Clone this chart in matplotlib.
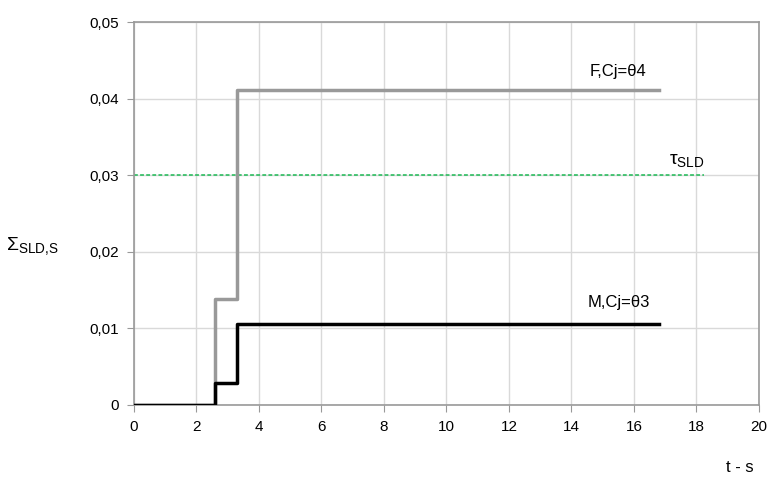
import numpy as np
import matplotlib
matplotlib.use("Agg")
import matplotlib.pyplot as plt
from matplotlib.ticker import FuncFormatter

plt.rcParams['font.family'] = ['Liberation Sans', 'DejaVu Sans']
plt.rcParams['mathtext.fontset'] = 'custom'
plt.rcParams['mathtext.rm'] = 'Liberation Sans'
plt.rcParams['mathtext.it'] = 'Liberation Sans'
plt.rcParams['mathtext.bf'] = 'Liberation Sans:bold'

# step data
t_F = [0, 2.6, 3.3, 16.8]
sum_F = [0, 0.0139, 0.0411, 0.0411]
t_M = [0, 2.6, 3.3, 16.8]
sum_M = [0, 0.0029, 0.0106, 0.0106]
tau_t = [0, 18.25]
tau_val = [0.03, 0.03]

x_ticks = list(range(0, 21, 2))
y_ticks = [0, 0.01, 0.02, 0.03, 0.04, 0.05]


def comma_fmt(v, pos):
    if abs(v) < 1e-12:
        return "0"
    return f"{v:.2f}".replace(".", ",")


fig = plt.figure(figsize=(7.71, 4.82), dpi=100)
ax = fig.add_axes([0.1738, 0.1598, 0.8106, 0.7944])

ax.step(t_F, sum_F, where='post', color='#999999', lw=2.5, zorder=3)
ax.step(t_M, sum_M, where='post', color='black', lw=2.5, zorder=4)
ax.plot(tau_t, tau_val, color='#1db954', lw=1.1, ls=(0, (2.5, 1.5)), zorder=2)

ax.set_xlim(0, 20)
ax.set_ylim(0, 0.05)
ax.set_xticks(x_ticks)
ax.set_yticks(y_ticks)
ax.yaxis.set_major_formatter(FuncFormatter(comma_fmt))
ax.grid(True, color='#d9d9d9', lw=1.0)
ax.set_axisbelow(True)

for s in ax.spines.values():
    s.set_color('#999999')
    s.set_linewidth(1.2)
ax.tick_params(axis='both', direction='out', length=5, color='#999999',
               labelsize=11, pad=6)

ax.text(15.5, 0.0426, "F,Cj=θ4", fontsize=12, ha='center', va='bottom')
ax.text(15.5, 0.0124, "M,Cj=θ3", fontsize=12, ha='center', va='bottom')
ax.text(17.7, 0.0308, r"$\mathrm{\tau_{SLD}}$", fontsize=14, ha='center', va='bottom')

fig.text(0.042, 0.49, r"$\mathrm{\Sigma_{SLD{,}S}}$", fontsize=14, ha='center', va='center')
fig.text(0.96, 0.015, "t - s", fontsize=12, ha='center', va='bottom')

fig.savefig("out.png", dpi=100)
